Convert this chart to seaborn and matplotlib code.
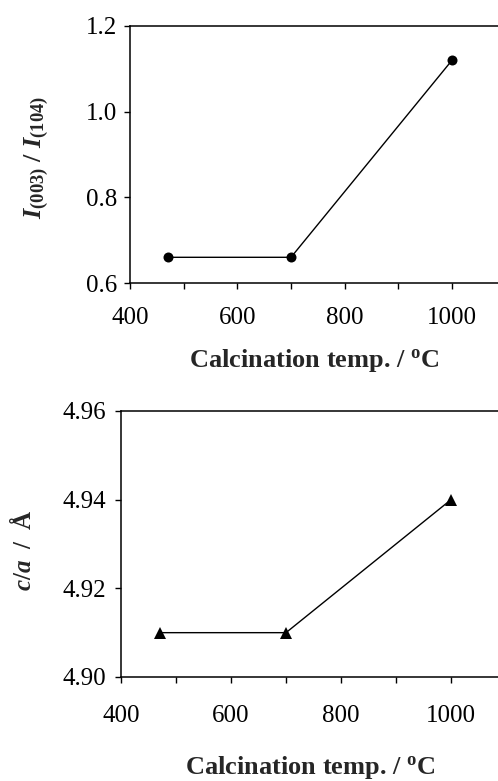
import matplotlib
matplotlib.use("Agg")
import matplotlib.pyplot as plt
import seaborn as sns
import pandas as pd
from matplotlib.ticker import MultipleLocator, FormatStrFormatter

# ---- data ----
calc_temp_top = [470, 700, 1000]
intensity_ratio = [0.66, 0.66, 1.12]
calc_temp_bottom = [470, 700, 1000]
c_over_a = [4.91, 4.91, 4.94]

top_yticks = [0.6, 0.8, 1.0, 1.2]
bottom_yticks = [4.90, 4.92, 4.94, 4.96]
xticks_major = [400, 600, 800, 1000]

sns.set_style("ticks")
plt.rcParams["font.family"] = ["Liberation Serif", "DejaVu Serif"]
plt.rcParams["mathtext.fontset"] = "custom"
plt.rcParams["mathtext.rm"] = "Liberation Serif"
plt.rcParams["mathtext.it"] = "Liberation Serif:italic"
plt.rcParams["mathtext.bf"] = "Liberation Serif:bold"
plt.rcParams["mathtext.bfit"] = "Liberation Serif:bold:italic"

W, H = 498, 781
fig = plt.figure(figsize=(W / 100, H / 100), dpi=100)

def px_axes(left, top, right, bottom):
    return fig.add_axes([left / W, 1 - bottom / H, (right - left) / W, (bottom - top) / H])

ax1 = px_axes(130, 26, 130 + 700 * 322 / 600, 283)
ax2 = px_axes(121, 411, 121 + 700 * 330 / 600, 677)

df1 = pd.DataFrame({"T": calc_temp_top, "R": intensity_ratio})
df2 = pd.DataFrame({"T": calc_temp_bottom, "CA": c_over_a})

sns.lineplot(data=df1, x="T", y="R", ax=ax1, color="black", linewidth=1.0,
             marker="o", markersize=7.2, markeredgewidth=0, markerfacecolor="black")
sns.lineplot(data=df2, x="T", y="CA", ax=ax2, color="black", linewidth=1.0,
             marker="^", markersize=9, markeredgewidth=0, markerfacecolor="black")

xlabel = r"Calcination temp. / $^{\mathbf{o}}$C"

for ax in (ax1, ax2):
    ax.set_xlim(400, 1100)
    ax.set_xticks(xticks_major)
    ax.xaxis.set_minor_locator(MultipleLocator(100))
    for sp in ax.spines.values():
        sp.set_linewidth(1.1)
        sp.set_color("black")
    ax.tick_params(axis="both", which="both", direction="out", length=4, width=1,
                   color="black", labelsize=18, labelcolor="black")
    ax.tick_params(axis="x", which="minor", length=4)

ax1.set_ylim(0.6, 1.2)
ax1.set_yticks(top_yticks)
ax1.yaxis.set_major_formatter(FormatStrFormatter("%.1f"))
ax1.tick_params(axis="x", which="major", pad=13)
ax1.tick_params(axis="y", pad=5)

ax2.set_ylim(4.90, 4.96)
ax2.set_yticks(bottom_yticks)
ax2.yaxis.set_major_formatter(FormatStrFormatter("%.2f"))
ax2.tick_params(axis="x", which="major", pad=16)
ax2.tick_params(axis="y", pad=7)

ax1.set_xlabel(xlabel, fontsize=19, fontweight="bold", va="center")
ax1.xaxis.set_label_coords(0.49, -0.30)
ax1.set_ylabel(r"$\mathbfit{I}_{\mathbf{(003)}}\ \mathbf{/}\ \mathbfit{I}_{\mathbf{(104)}}$",
               fontsize=19, va="center", ha="center")
ax1.yaxis.set_label_coords(-0.248, 0.487)

ax2.set_xlabel(xlabel, fontsize=19, fontweight="bold", va="center")
ax2.xaxis.set_label_coords(0.49, -0.34)
ax2.set_ylabel(r"$\mathbfit{c}\mathbf{/}\mathbfit{a}\ \ \mathbf{/}\ \ \mathbf{Å}$",
               fontsize=18, va="center", ha="center")
ax2.yaxis.set_label_coords(-0.255, 0.475)

fig.savefig("out.png", dpi=100)
